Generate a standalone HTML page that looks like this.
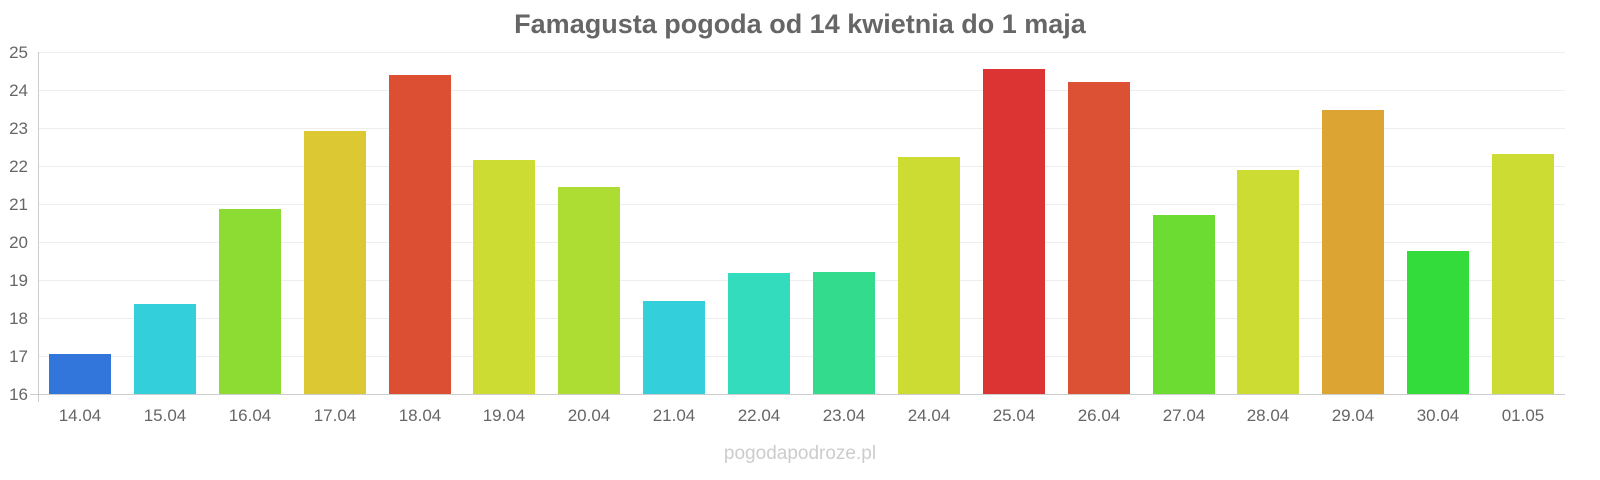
<!DOCTYPE html>
<html><head><meta charset="utf-8"><style>
body{margin:0;background:#fff;}
svg{display:block;font-family:"Liberation Sans",sans-serif;}
</style></head><body>
<svg width="1600" height="480" viewBox="0 0 1600 480">
<text x="800" y="33" text-anchor="middle" font-size="27" font-weight="bold" fill="#666">Famagusta pogoda od 14 kwietnia do 1 maja</text>
<g stroke="#eee" stroke-width="1">
<line x1="38" x2="1565" y1="52.5" y2="52.5"/><line x1="38" x2="1565" y1="90.5" y2="90.5"/>
<line x1="38" x2="1565" y1="128.5" y2="128.5"/><line x1="38" x2="1565" y1="166.5" y2="166.5"/>
<line x1="38" x2="1565" y1="204.5" y2="204.5"/><line x1="38" x2="1565" y1="242.5" y2="242.5"/>
<line x1="38" x2="1565" y1="280.5" y2="280.5"/><line x1="38" x2="1565" y1="318.5" y2="318.5"/>
<line x1="38" x2="1565" y1="356.5" y2="356.5"/>
</g>
<line x1="38.5" x2="38.5" y1="52" y2="402" stroke="#ccc"/>
<line x1="30" x2="1565" y1="394.5" y2="394.5" stroke="#ccc"/>
<g font-size="17" fill="#666" text-anchor="end">
<text x="28" y="58">25</text><text x="28" y="96">24</text><text x="28" y="134">23</text>
<text x="28" y="172">22</text><text x="28" y="210">21</text><text x="28" y="248">20</text>
<text x="28" y="286">19</text><text x="28" y="324">18</text><text x="28" y="362">17</text>
<text x="28" y="400">16</text>
</g>
<g>
<rect x="49" y="354" width="62" height="40" fill="#3276dc"/>
<rect x="134" y="304" width="62" height="90" fill="#33d0dc"/>
<rect x="219" y="209" width="62" height="185" fill="#8cdc33"/>
<rect x="304" y="131" width="62" height="263" fill="#dcc833"/>
<rect x="389" y="75" width="62" height="319" fill="#dc4f33"/>
<rect x="473" y="160" width="62" height="234" fill="#cddc33"/>
<rect x="558" y="187" width="62" height="207" fill="#addc33"/>
<rect x="643" y="301" width="62" height="93" fill="#33d0dc"/>
<rect x="728" y="273" width="62" height="121" fill="#33dcbc"/>
<rect x="813" y="272" width="62" height="122" fill="#33dc8c"/>
<rect x="898" y="157" width="62" height="237" fill="#cddc33"/>
<rect x="983" y="69" width="62" height="325" fill="#dc3333"/>
<rect x="1068" y="82" width="62" height="312" fill="#dc5033"/>
<rect x="1153" y="215" width="62" height="179" fill="#6cdc33"/>
<rect x="1237" y="170" width="62" height="224" fill="#cddc33"/>
<rect x="1322" y="110" width="62" height="284" fill="#dca533"/>
<rect x="1407" y="251" width="62" height="143" fill="#33dc3a"/>
<rect x="1492" y="154" width="62" height="240" fill="#cddc33"/>
</g>
<g font-size="17" fill="#666" text-anchor="middle">
<text x="80" y="421">14.04</text><text x="165" y="421">15.04</text><text x="250" y="421">16.04</text>
<text x="335" y="421">17.04</text><text x="420" y="421">18.04</text><text x="504" y="421">19.04</text>
<text x="589" y="421">20.04</text><text x="674" y="421">21.04</text><text x="759" y="421">22.04</text>
<text x="844" y="421">23.04</text><text x="929" y="421">24.04</text><text x="1014" y="421">25.04</text>
<text x="1099" y="421">26.04</text><text x="1184" y="421">27.04</text><text x="1268" y="421">28.04</text>
<text x="1353" y="421">29.04</text><text x="1438" y="421">30.04</text><text x="1523" y="421">01.05</text>
</g>
<text x="800" y="459" text-anchor="middle" font-size="19" fill="#ccc">pogodapodroze.pl</text>
</svg>
</body></html>
